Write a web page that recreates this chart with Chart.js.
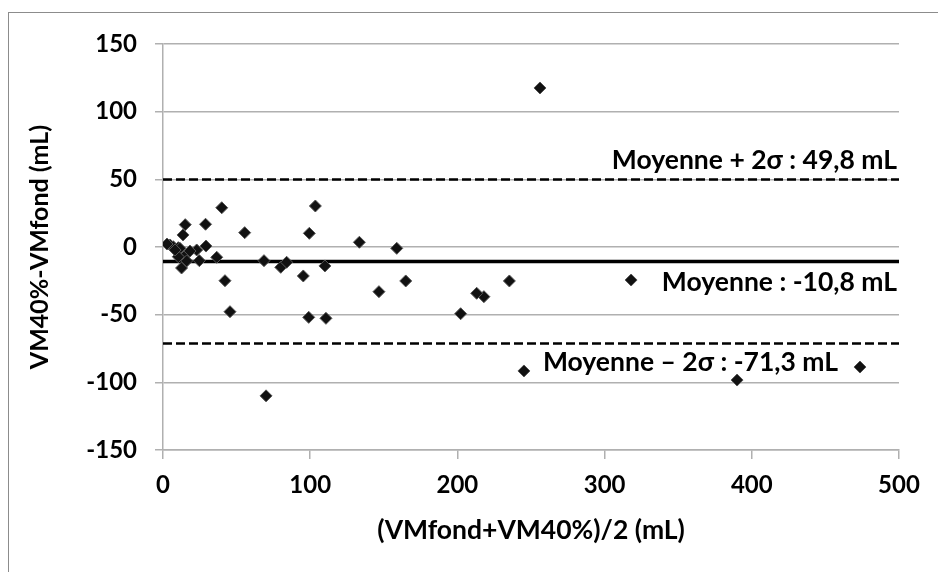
<!DOCTYPE html>
<html><head><meta charset="utf-8">
<script src="https://cdn.jsdelivr.net/npm/chart.js@4"></script>
<style>
html,body{margin:0;padding:0;background:#fff;overflow:hidden}
#wrap{position:relative;width:938px;height:572px}
#frame{position:absolute;left:8px;top:12px;width:1000px;height:1000px;border:1.5px solid #8c8c8c;box-sizing:border-box;pointer-events:none}
canvas{position:absolute;left:0;top:0}
</style></head><body>
<div id="wrap"><canvas id="c" width="938" height="572"></canvas><div id="frame"></div></div>
<script>
// Bland-Altman data: mean of the two measures (x) and their difference (y), mL
const meanValues = [256.1, 318, 235.3, 218, 213.1, 202.2, 245.2, 390, 473.5, 70,
  158.8, 146.7, 164.9, 55.5, 103.5, 99.4, 133.4, 68.6, 80, 84,
  95.3, 110, 99, 110.7, 39.9, 28.9, 15.1, 13.6, 29.2, 36.5,
  24.7, 12.6, 42.1, 45.5, 4.8, 7, 10.4, 11.5, 16.1, 10.4,
  22.9, 8.2, 16.1, 2.7, 18.3];
const diffValues = [117.5, -24.4, -25.1, -36.7, -34.2, -49.3, -91.6, -98.3, -88.7, -110,
  -1, -33, -25.1, 10.6, 30.3, 10.1, 3.5, -10.1, -15, -11.3,
  -21.4, -14, -52, -52.7, 29, 16.8, 16.5, 8.9, 0.7, -7.6,
  -10.1, -15.5, -24.9, -47.8, 1.5, 0.2, -0.5, -1, -5.4, -7.2,
  -2.2, -2.2, -10.3, 2.2, -3];
const meanDiff = -10.8;
const upperLimit = 49.8;
const lowerLimit = -71.3;
const xRange = [0, 500];
const yRange = [-150, 150];
const xStep = 100;
const yStep = 50;
const refLabels = ["Moyenne + 2σ : 49,8 mL", "Moyenne : -10,8 mL", "Moyenne – 2σ : -71,3 mL"];
const xTitle = "(VMfond+VM40%)/2 (mL)";
const yTitle = "VM40%-VMfond (mL)";

const FONT = "Lato, 'Open Sans', sans-serif";
const points = meanValues.map((x, i) => ({x: x, y: diffValues[i]}));
const hline = v => [{x: xRange[0], y: v}, {x: xRange[1], y: v}];

const labelPlugin = {
  id: 'refLabels',
  afterDatasetsDraw(chart) {
    const ctx = chart.ctx, ys = chart.scales.y, area = chart.chartArea;
    const items = [
      {text: refLabels[0], v: upperLimit, dy: -19, dx: -2},
      {text: refLabels[1], v: meanDiff, dy: 21, dx: -2},
      {text: refLabels[2], v: lowerLimit, dy: 19, dx: -61}
    ];
    ctx.save();
    ctx.font = "bold 26.5px " + FONT;
    ctx.fillStyle = '#000';
    ctx.textAlign = 'right';
    ctx.textBaseline = 'middle';
    items.forEach(it => ctx.fillText(it.text, area.right + it.dx, ys.getPixelForValue(it.v) + it.dy));
    ctx.restore();
  }
};

const gridCol = '#b0b0b0';
new Chart(document.getElementById('c'), {
  type: 'scatter',
  data: {
    datasets: [
      {data: points, order: 0, pointStyle: 'rectRot', pointRadius: 6, pointHoverRadius: 6,
       backgroundColor: '#111', borderColor: '#555', borderWidth: 1},
      {data: hline(meanDiff), order: 1, showLine: true, borderColor: '#000', borderWidth: 3.5, pointRadius: 0},
      {data: hline(upperLimit), order: 1, showLine: true, borderColor: '#000', borderWidth: 2.5, borderDash: [9, 4], pointRadius: 0},
      {data: hline(lowerLimit), order: 1, showLine: true, borderColor: '#000', borderWidth: 2.5, borderDash: [9, 4], pointRadius: 0}
    ]
  },
  options: {
    responsive: false,
    animation: false,
    events: [],
    layout: {padding: {top: 44, right: 39, left: 0, bottom: 0}},
    plugins: {legend: {display: false}, tooltip: {enabled: false}},
    scales: {
      x: {
        type: 'linear', min: xRange[0], max: xRange[1],
        afterFit: s => { s.height = 122; },
        ticks: {stepSize: xStep, color: '#000', font: {family: FONT, size: 24, weight: 'bold'}, padding: 12},
        grid: {drawOnChartArea: false, drawTicks: true, tickLength: 9, color: gridCol, lineWidth: 1.5},
        border: {display: true, color: gridCol, width: 1.5},
        title: {display: true, text: xTitle, color: '#000', font: {family: FONT, size: 26.5, weight: 'bold'}, padding: {top: 0, bottom: 26}}
      },
      y: {
        type: 'linear', min: yRange[0], max: yRange[1],
        afterFit: s => { s.width = 163; },
        ticks: {stepSize: yStep, color: '#000', font: {family: FONT, size: 24, weight: 'bold'}, padding: 18},
        grid: {drawTicks: true, tickLength: 8, color: gridCol, lineWidth: 1.5},
        border: {display: true, color: gridCol, width: 1.5},
        title: {display: true, text: yTitle, color: '#000', font: {family: FONT, size: 25, weight: 'bold'}, padding: {top: 25, bottom: 0}}
      }
    }
  },
  plugins: [labelPlugin]
});
</script>
</body></html>
